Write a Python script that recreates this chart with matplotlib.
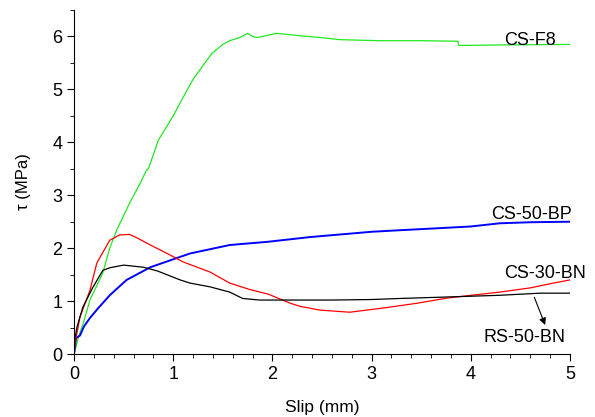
import matplotlib
matplotlib.use("Agg")
import matplotlib.pyplot as plt
from matplotlib.ticker import MultipleLocator

plt.rcParams['font.family'] = ['Liberation Sans', 'DejaVu Sans']

# CS-F8 (green)
f8_x = [0, 0.05, 0.1, 0.16, 0.29, 0.36, 0.43, 0.56, 0.66, 0.73, 0.75, 0.85, 1.0, 1.1, 1.2,
        1.3, 1.39, 1.5, 1.57, 1.67, 1.75, 1.8, 1.84, 1.9, 2.04, 2.25, 2.48, 2.68, 3.08, 3.5,
        3.87, 3.88, 4.3, 5.0]
f8_y = [0, 0.35, 0.62, 1.02, 1.53, 2.0, 2.34, 2.85, 3.2, 3.47, 3.5, 4.04, 4.5, 4.85, 5.19,
        5.45, 5.68, 5.85, 5.92, 5.98, 6.06, 6.0, 5.98, 6.0, 6.06, 6.02, 5.98, 5.94, 5.92, 5.92,
        5.91, 5.83, 5.84, 5.85]

# CS-50-BP (blue)
bp_x = [0, 0.02, 0.06, 0.1, 0.16, 0.25, 0.36, 0.53, 0.77, 1.0, 1.17, 1.57, 1.95, 2.38,
        3.0, 3.29, 3.6, 4.0, 4.29, 4.6, 5.0]
bp_y = [0, 0.3, 0.35, 0.52, 0.68, 0.88, 1.11, 1.4, 1.64, 1.79, 1.9, 2.06, 2.12, 2.21,
        2.31, 2.34, 2.37, 2.41, 2.47, 2.49, 2.5]

# CS-30-BN (red)
cs30_x = [0, 0.01, 0.06, 0.16, 0.23, 0.36, 0.46, 0.56, 0.63, 0.77, 0.97, 1.1, 1.37, 1.57,
          1.77, 1.96, 2.18, 2.28, 2.48, 2.78, 3.12, 3.46, 3.77, 4.29, 4.6, 4.83, 5.0]
cs30_y = [0, 0.2, 0.7, 1.2, 1.72, 2.15, 2.25, 2.26, 2.2, 2.06, 1.87, 1.74, 1.55, 1.34,
          1.22, 1.13, 0.96, 0.9, 0.83, 0.79, 0.87, 0.96, 1.06, 1.17, 1.25, 1.34, 1.4]

# RS-50-BN (black)
rs50_x = [0, 0.01, 0.03, 0.09, 0.19, 0.29, 0.36, 0.5, 0.7, 0.84, 1.07, 1.17, 1.37, 1.57,
          1.7, 1.87, 2.2, 2.6, 3.0, 3.29, 3.8, 4.29, 4.7, 5.0]
rs50_y = [0, 0.3, 0.51, 0.89, 1.26, 1.58, 1.63, 1.68, 1.64, 1.57, 1.4, 1.34, 1.27, 1.17,
          1.05, 1.02, 1.02, 1.02, 1.03, 1.05, 1.08, 1.11, 1.15, 1.15]

fig = plt.figure(figsize=(5.95, 4.17), dpi=100)
ax = fig.add_axes([0.1244, 0.151, 0.8336, 0.825])

ax.plot(f8_x, f8_y, color='#22e822', lw=0.9)
ax.plot(bp_x, bp_y, color='#0000ff', lw=1.4)
ax.plot(cs30_x, cs30_y, color='#ff0000', lw=0.9)
ax.plot(rs50_x, rs50_y, color='#000000', lw=0.9)

ax.set_xlim(0, 5)
ax.set_ylim(0, 6.5)
ax.spines['top'].set_visible(False)
ax.spines['right'].set_visible(False)
ax.xaxis.set_major_locator(MultipleLocator(1))
ax.xaxis.set_minor_locator(MultipleLocator(0.2))
ax.yaxis.set_major_locator(MultipleLocator(1))
ax.yaxis.set_minor_locator(MultipleLocator(0.5))
ax.tick_params(which='major', direction='out', length=5, labelsize=13)
ax.tick_params(which='minor', direction='out', length=3)

ax.set_xlabel('Slip (mm)', fontsize=12.5, labelpad=12)
ax.set_ylabel('τ (MPa)', fontsize=12, labelpad=15)

ax.text(4.6, 5.92, 'CS-F8', fontsize=13, ha='center', va='center')
ax.text(4.61, 2.64, 'CS-50-BP', fontsize=13, ha='center', va='center')
ax.text(4.75, 1.53, 'CS-30-BN', fontsize=13, ha='center', va='center')
ax.text(4.54, 0.32, 'RS-50-BN', fontsize=13, ha='center', va='center')
ax.annotate('', xy=(4.76, 0.5), xytext=(4.63, 1.12),
            arrowprops=dict(arrowstyle='-|>', color='black', lw=0.8, mutation_scale=10))

fig.savefig('out.png', dpi=100)
